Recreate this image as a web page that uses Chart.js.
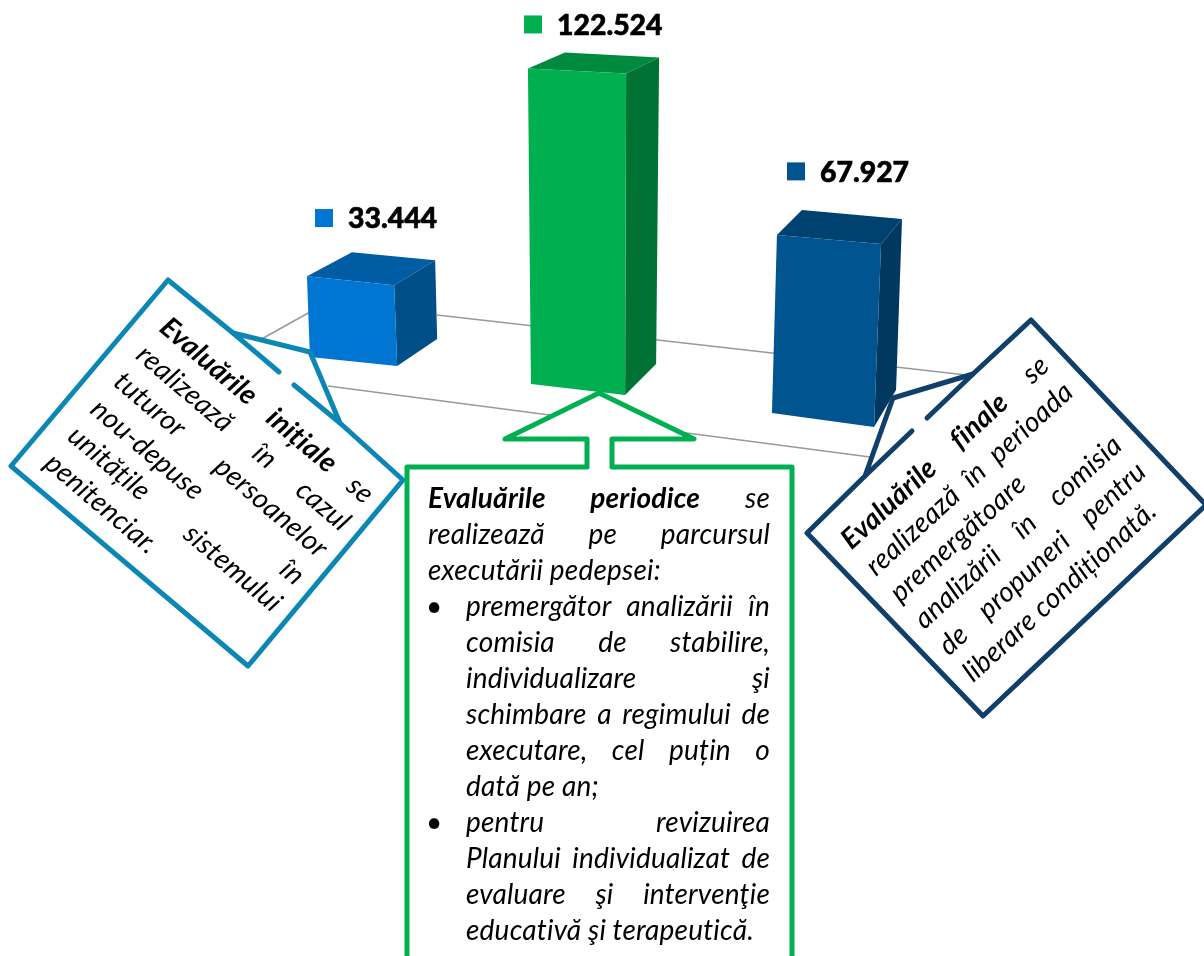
<!DOCTYPE html>
<html lang="ro">
<head>
<meta charset="utf-8">
<title>Evaluări</title>
<script src="https://cdn.jsdelivr.net/npm/chart.js@4"></script>
<style>
    html, body { margin: 0; padding: 0; background: #fff; overflow: hidden; }
    #stage { position: relative; width: 1204px; height: 956px; overflow: hidden; }
    #chart, #callouts { position: absolute; left: 0; top: 0; }
    .note { position: absolute; font: italic 28px Lato, sans-serif; letter-spacing: 0.2px; color: #000; transform-origin: 0 0; }
    .note div { white-space: nowrap; position: relative; }
    .note .j { white-space: normal; text-align: justify; text-align-last: justify; }
    .note .li { margin-left: 38px; }
    .note .dot { position: absolute; left: -40px; font-style: normal; }
    .note b { font-weight: 700; }
</style>
</head>
<body>
<div id="stage">
    <canvas id="chart" width="1204" height="956"></canvas>
    <svg id="callouts" width="1204" height="956">
        <g fill="#fff" stroke="#0C86B5" stroke-width="5" stroke-linejoin="round" stroke-linecap="round">
            <path d="M168 280 L233 333 L310 352 L340 423 L403 480 L248 666 L11 466 Z"/>
            <path d="M233 333 L279 372 M294 385 L340 423" fill="none"/>
        </g>
        <g fill="#fff" stroke="#103F6B" stroke-width="5" stroke-linejoin="round" stroke-linecap="round">
            <path d="M1031 320 L973 374 L893 398 L865 476 L807 533 L983 716 L1206 505 Z"/>
            <path d="M973 374 L927 418 M912 431 L865 476" fill="none"/>
        </g>
        <path d="M407 960 L407 467 L587 467 L587 439 L505 439 L599 393 L694 439 L612 439 L612 467 L792 467 L792 960"
              fill="#fff" stroke="#00B050" stroke-width="5" stroke-linejoin="round" stroke-linecap="round"/>
    </svg>

    <div class="note" style="left:176px;top:309px;width:270px;line-height:35.6px;transform:rotate(40.3deg)">
        <div class="j"><b>Evaluările inițiale</b> se</div>
        <div class="j">realizează în cazul</div>
        <div class="j">tuturor persoanelor</div>
        <div class="j">nou-depuse în</div>
        <div class="j">unitățile sistemului</div>
        <div>penitenciar.</div>
    </div>

    <div class="note" style="left:832px;top:529px;width:270px;line-height:36px;transform:rotate(-42.5deg)">
        <div class="j"><b>Evaluările finale</b> se</div>
        <div class="j">realizează în perioada</div>
        <div>premergătoare</div>
        <div class="j">analizării în comisia</div>
        <div class="j">de propuneri pentru</div>
        <div>liberare condiționată.</div>
    </div>

    <div class="note" style="left:428px;top:479px;width:342px;line-height:36px">
        <div class="j"><b>Evaluările periodice</b> se</div>
        <div class="j">realizează pe parcursul</div>
        <div>executării pedepsei:</div>
        <div class="j li"><span class="dot">•</span>premergător analizării în</div>
        <div class="j li">comisia de stabilire,</div>
        <div class="j li">individualizare şi</div>
        <div class="j li">schimbare a regimului de</div>
        <div class="j li">executare, cel puțin o</div>
        <div class="li">dată pe an;</div>
        <div class="j li"><span class="dot">•</span>pentru revizuirea</div>
        <div class="j li">Planului individualizat de</div>
        <div class="j li">evaluare şi intervenţie</div>
        <div class="li">educativă şi terapeutică.</div>
    </div>
</div>

<script>
// Data
const categories = ['Evaluări inițiale', 'Evaluări periodice', 'Evaluări finale'];
const evaluations = [33444, 122524, 67927];

// Front, top and side colours of each block
const frontColors = ['#0075D1', '#00B050', '#00548F'];
const topColors = ['#005CA3', '#008A3E', '#00426F'];
const sideColors = ['#004F88', '#007233', '#00385F'];

// How the old 3D chart bends each bar away from a plain rectangle
const barViews = [
    { dx: 7.5, dy: -43, sx: 0.88, sy: 0.93, lean: -3, taper: 0, topDrop: 9, botDrop: 9,
      depthLeft: [45, -24], depthTop: [41, -25], depthBot: [40, -27], label: [-37, -104] },
    { dx: -7.5, dy: -16, sx: 0.95, sy: 0.99, lean: -3, taper: 4, topDrop: 5, botDrop: 11,
      depthLeft: [37, -16], depthTop: [33, -16], depthBot: [31, -31], label: [-64, -66] },
    { dx: -2.5, dy: 13, sx: 1.03, sy: 1.008, lean: 5, taper: 2, topDrop: 9, botDrop: 14,
      depthLeft: [25, -25], depthTop: [21, -25], depthBot: [22, -37], label: [-37, -61] }
];

function fillPoly(ctx, color, pts) {
    ctx.fillStyle = color;
    ctx.beginPath();
    pts.forEach((p, i) => i ? ctx.lineTo(p[0], p[1]) : ctx.moveTo(p[0], p[1]));
    ctx.closePath();
    ctx.fill();
}

const blocks3d = {
    id: 'blocks3d',
    // Floor of the 3D chart
    beforeDatasetsDraw(chart) {
        const ctx = chart.ctx;
        ctx.save();
        ctx.strokeStyle = '#999999';
        ctx.lineWidth = 1.6;
        [[437, 315, 975, 376], [328, 386, 870, 457], [258, 341, 310, 312]].forEach(l => {
            ctx.beginPath();
            ctx.moveTo(l[0], l[1]);
            ctx.lineTo(l[2], l[3]);
            ctx.stroke();
        });
        ctx.restore();
    },
    // Bars are drawn as blocks instead of the flat rectangle
    beforeDatasetDraw(chart, args) {
        const ctx = chart.ctx;
        args.meta.data.forEach((bar, i) => {
            const v = barViews[i];
            const w = bar.width * v.sx;
            const h = (bar.base - bar.y) * v.sy;
            const bl = [bar.x - bar.width / 2 + v.dx, bar.base + v.dy];
            const br = [bl[0] + w, bl[1] + v.botDrop];
            const tl = [bl[0] + v.lean, bl[1] - h];
            const tr = [tl[0] + w + v.taper, tl[1] + v.topDrop];
            const backLeft = [tl[0] + v.depthLeft[0], tl[1] + v.depthLeft[1]];
            const backTop = [tr[0] + v.depthTop[0], tr[1] + v.depthTop[1]];
            const backBot = [br[0] + v.depthBot[0], br[1] + v.depthBot[1]];
            fillPoly(ctx, topColors[i], [tl, backLeft, backTop, tr]);
            fillPoly(ctx, sideColors[i], [tr, backTop, backBot, br]);
            fillPoly(ctx, frontColors[i], [tl, tr, br, bl]);
        });
        return false;
    },
    // Value labels with their little square key
    afterDatasetsDraw(chart) {
        const ctx = chart.ctx;
        const bars = chart.getDatasetMeta(0).data;
        ctx.save();
        ctx.font = '900 28.4px Lato, sans-serif';
        ctx.textBaseline = 'middle';
        ctx.lineWidth = 0.6;
        ctx.strokeStyle = '#000';
        bars.forEach((bar, i) => {
            const v = barViews[i];
            const x = bar.x + v.label[0];
            const y = bar.y + v.label[1];
            const text = String(evaluations[i]).replace(/\B(?=(\d{3})+$)/g, '.');
            ctx.fillStyle = frontColors[i];
            ctx.fillRect(x, y, 18, 18);
            ctx.fillStyle = '#000';
            ctx.fillText(text, x + 33, y + 10);
            ctx.strokeText(text, x + 33, y + 10);
        });
        ctx.restore();
    }
};

new Chart(document.getElementById('chart').getContext('2d'), {
    type: 'bar',
    data: {
        labels: categories,
        datasets: [{
            data: evaluations,
            backgroundColor: frontColors,
            categoryPercentage: 1,
            barPercentage: 0.42
        }]
    },
    options: {
        responsive: false,
        animation: false,
        layout: { padding: { left: 234, right: 262, top: 36, bottom: 556 } },
        plugins: { legend: { display: false }, tooltip: { enabled: false } },
        scales: {
            x: { display: false },
            y: { display: false, min: 0, max: 140000 }
        }
    },
    plugins: [blocks3d]
});
</script>
</body>
</html>
